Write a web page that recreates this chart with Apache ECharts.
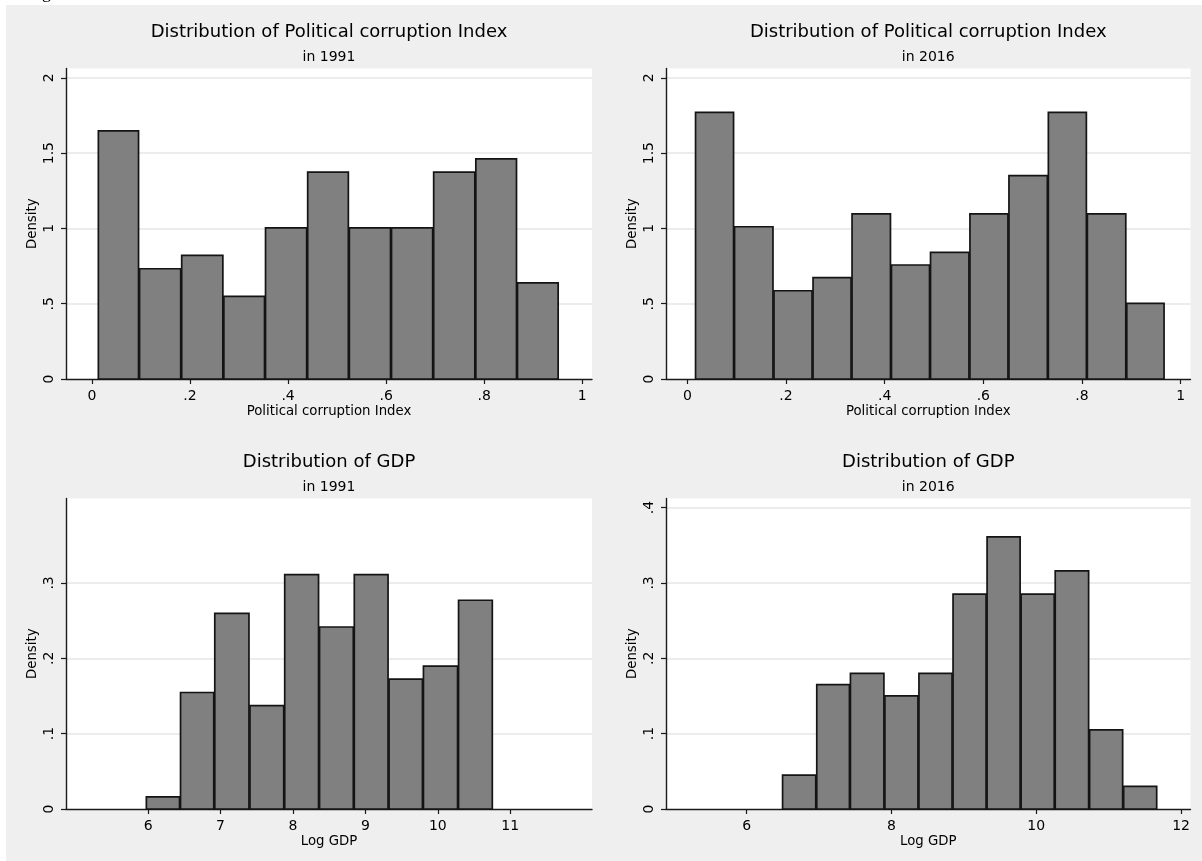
<!DOCTYPE html>
<html>
<head>
<meta charset="utf-8">
<script src="https://cdn.jsdelivr.net/npm/echarts@6/dist/echarts.min.js"></script>
<style>
html,body{margin:0;padding:0;background:#ffffff;}
#chart{width:1202px;height:861px;}
</style>
</head>
<body>
<div id="chart"></div>
<script>
// ---------- DATA ----------
// Political corruption index, 1991: bin edges and densities
const corr1991Edges   = [0.012, 0.096, 0.182, 0.268, 0.353, 0.439, 0.524, 0.610, 0.696, 0.782, 0.867, 0.952];
const corr1991Density = [1.648, 0.732, 0.821, 0.549, 1.004, 1.374, 1.004, 1.004, 1.374, 1.462, 0.639];

// Political corruption index, 2016
const corr2016Edges   = [0.0155, 0.0946, 0.1745, 0.2537, 0.3328, 0.4127, 0.4919, 0.5718, 0.6509, 0.7308, 0.8099, 0.8898, 0.9674];
const corr2016Density = [1.770, 1.011, 0.586, 0.673, 1.097, 0.757, 0.841, 1.097, 1.350, 1.770, 1.097, 0.502];

// Log GDP, 1991
const gdp1991Edges   = [5.968, 6.440, 6.913, 7.399, 7.879, 8.360, 8.840, 9.320, 9.795, 10.280, 10.760];
const gdp1991Density = [0.016, 0.1546, 0.2596, 0.1373, 0.311, 0.2415, 0.311, 0.1724, 0.1896, 0.277];

// Log GDP, 2016
const gdp2016Edges   = [6.490, 6.962, 7.427, 7.903, 8.373, 8.844, 9.314, 9.784, 10.255, 10.730, 11.200, 11.670];
const gdp2016Density = [0.045, 0.165, 0.180, 0.150, 0.180, 0.285, 0.361, 0.285, 0.316, 0.105, 0.030];

// Tick values and labels
const corrXTicks      = [0, 0.2, 0.4, 0.6, 0.8, 1];
const corrXTickLabels = ['0', '.2', '.4', '.6', '.8', '1'];
const corrYTicks      = [0, 0.5, 1, 1.5, 2];
const corrYTickLabels = ['0', '.5', '1', '1.5', '2'];

const gdp1991XTicks      = [6, 7, 8, 9, 10, 11];
const gdp1991XTickLabels = ['6', '7', '8', '9', '10', '11'];
const gdp1991YTicks      = [0, 0.1, 0.2, 0.3];
const gdp1991YTickLabels = ['0', '.1', '.2', '.3'];

const gdp2016XTicks      = [6, 8, 10, 12];
const gdp2016XTickLabels = ['6', '8', '10', '12'];
const gdp2016YTicks      = [0, 0.1, 0.2, 0.3, 0.4];
const gdp2016YTickLabels = ['0', '.1', '.2', '.3', '.4'];

// Texts
const titleCorr = 'Distribution of Political corruption Index';
const titleGdp  = 'Distribution of GDP';
const sub1991   = 'in 1991';
const sub2016   = 'in 2016';
const xNameCorr = 'Political corruption Index';
const xNameGdp  = 'Log GDP';
const yName     = 'Density';

// ---------- LAYOUT / STYLE ----------
const FONT = 'DejaVu Sans';
const AXIS_COLOR = '#1a1a1a';
const GRID_COLOR = '#e6e6e6';

const panels = [
  {title: titleCorr, sub: sub1991, xName: xNameCorr, edges: corr1991Edges, dens: corr1991Density,
   xTicks: corrXTicks, xLabels: corrXTickLabels, yTicks: corrYTicks, yLabels: corrYTickLabels,
   xMin: -0.053, xMax: 1.020, yMax: 2.062, left: 66, top: 68.5, width: 526},
  {title: titleCorr, sub: sub2016, xName: xNameCorr, edges: corr2016Edges, dens: corr2016Density,
   xTicks: corrXTicks, xLabels: corrXTickLabels, yTicks: corrYTicks, yLabels: corrYTickLabels,
   xMin: -0.0434, xMax: 1.020, yMax: 2.062, left: 666, top: 68.5, width: 524.5},
  {title: titleGdp, sub: sub1991, xName: xNameGdp, edges: gdp1991Edges, dens: gdp1991Density,
   xTicks: gdp1991XTicks, xLabels: gdp1991XTickLabels, yTicks: gdp1991YTicks, yLabels: gdp1991YTickLabels,
   xMin: 4.865, xMax: 12.13, yMax: 0.412, left: 66, top: 498.5, width: 526},
  {title: titleGdp, sub: sub2016, xName: xNameGdp, edges: gdp2016Edges, dens: gdp2016Density,
   xTicks: gdp2016XTicks, xLabels: gdp2016XTickLabels, yTicks: gdp2016YTicks, yLabels: gdp2016YTickLabels,
   xMin: 4.887, xMax: 12.13, yMax: 0.412, left: 666, top: 498.5, width: 524.5}
];
const PLOT_H = 310.5;

function labelFmt(ticks, labels) {
  return function (v) {
    for (let i = 0; i < ticks.length; i++) {
      if (Math.abs(ticks[i] - v) < 1e-9) return labels[i];
    }
    return '';
  };
}

const grids = [], xAxes = [], yAxes = [], series = [], titles = [];

panels.forEach(function (p, i) {
  grids.push({
    left: p.left, top: p.top, width: p.width, height: PLOT_H,
    show: true, backgroundColor: '#ffffff', borderWidth: 0, containLabel: false
  });
  titles.push({
    text: p.title, subtext: p.sub,
    left: p.left + p.width / 2, top: p.top - 44.7,
    textAlign: 'center', padding: 0, itemGap: 8.2,
    textStyle: {fontFamily: FONT, fontSize: 18, fontWeight: 'normal', color: '#000000', lineHeight: 18},
    subtextStyle: {fontFamily: FONT, fontSize: 14, color: '#000000', lineHeight: 14}
  });
  xAxes.push({
    type: 'value', gridIndex: i, min: p.xMin, max: p.xMax,
    name: p.xName, nameLocation: 'middle', nameGap: 26,
    nameTextStyle: {fontFamily: FONT, fontSize: 13.3, color: '#000000'},
    axisLine: {show: true, onZero: false, lineStyle: {color: AXIS_COLOR, width: 1.4}},
    axisTick: {show: true, length: 5, customValues: p.xTicks, lineStyle: {color: AXIS_COLOR, width: 1.2}},
    axisLabel: {show: true, customValues: p.xTicks, margin: 10, formatter: labelFmt(p.xTicks, p.xLabels),
                fontFamily: FONT, fontSize: 14, color: '#000000'},
    splitLine: {show: false}
  });
  yAxes.push({
    type: 'value', gridIndex: i, min: 0, max: p.yMax,
    name: yName, nameLocation: 'middle', nameGap: 26.5,
    nameTextStyle: {fontFamily: FONT, fontSize: 13.3, color: '#000000'},
    axisLine: {show: true, onZero: false, lineStyle: {color: AXIS_COLOR, width: 1.4}},
    axisTick: {show: true, length: 5, customValues: p.yTicks, lineStyle: {color: AXIS_COLOR, width: 1.2}},
    axisLabel: {show: true, customValues: p.yTicks, rotate: 90, margin: 10, formatter: labelFmt(p.yTicks, p.yLabels),
                fontFamily: FONT, fontSize: 14, color: '#000000'},
    splitLine: {show: true, showMinLine: false, lineStyle: {color: GRID_COLOR, width: 1.5}}
  });
  const data = [];
  for (let k = 0; k < p.dens.length; k++) {
    data.push([p.edges[k], p.edges[k + 1], p.dens[k]]);
  }
  series.push({
    type: 'custom', xAxisIndex: i, yAxisIndex: i, data: data, clip: false,
    encode: {x: [0, 1], y: 2},
    renderItem: function (params, api) {
      const a = api.coord([api.value(0), api.value(2)]);
      const b = api.coord([api.value(1), 0]);
      const inset = 0.5;
      return {
        type: 'rect',
        shape: {x: a[0] + inset, y: a[1], width: b[0] - a[0] - 2 * inset, height: b[1] - a[1]},
        style: {fill: '#808080', stroke: '#141414', lineWidth: 1.7}
      };
    }
  });
});

const chart = echarts.init(document.getElementById('chart'), null, {renderer: 'canvas'});
chart.setOption({
  backgroundColor: '#ffffff',
  animation: false,
  graphic: [
    {type: 'rect', left: 6, top: 5, z: -10, shape: {width: 1196, height: 856}, style: {fill: '#efefef'}, silent: true},
    {type: 'text', x: 27, y: -7, z: 5, style: {text: 'Figure', fontFamily: 'Liberation Serif', fontSize: 18,
      fill: '#000000', verticalAlign: 'middle', align: 'left'}, silent: true}
  ],
  title: titles,
  grid: grids,
  xAxis: xAxes,
  yAxis: yAxes,
  series: series
});
</script>
</body>
</html>
